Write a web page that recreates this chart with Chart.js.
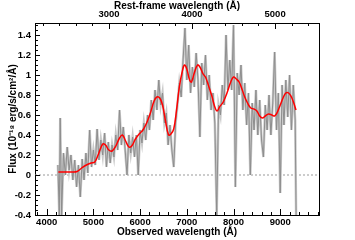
<!DOCTYPE html>
<html>
<head>
<meta charset="utf-8">
<script src="https://cdn.jsdelivr.net/npm/chart.js@4"></script>
<style>
	html, body { margin: 0; padding: 0; background: #fff; }
	canvas { display: block; }
</style>
</head>
<body>
<canvas id="chartSpec" width="355" height="240"></canvas>
<script>
// observed spectrum (grey)
const specWave = [4240,4270,4290,4320,4360,4400,4440,4480,4520,4560,4600,4640,4680,4720,4760,4800,4840,4880,4920,4960,
	5000,5040,5080,5120,5160,5200,5240,5280,5320,5360,5400,5440,5480,5520,5560,5600,5640,5680,5720,5760,
	5800,5840,5880,5920,5960,6000,6040,6080,6120,6160,6200,6240,6280,6320,6360,6400,6440,6480,6520,6560,
	6600,6640,6680,6720,6760,6800,6840,6880,6920,6960,7000,7040,7080,7120,7160,7200,7240,7280,7320,7360,
	7400,7440,7480,7520,7560,7600,7640,7680,7720,7760,7800,7840,7880,7920,7960,8000,8040,8080,8120,8160,
	8200,8240,8280,8320,8360,8400,8440,8480,8520,8560,8600,8640,8680,8720,8760,8800,8840,8880,8920,8960,
	9000,9040,9080,9120,9160,9200,9240,9280,9320,9340];
const specFlux = [0.10,-0.40,0.57,-0.40,0.22,0.00,0.28,0.05,0.20,-0.05,0.15,-0.12,0.10,-0.22,0.16,-0.05,0.22,0.02,0.45,0.08,
	0.25,0.10,0.46,0.15,0.35,0.20,0.42,0.08,0.33,0.12,0.30,0.18,0.40,0.25,0.65,0.30,0.48,0.25,0.00,0.40,
	0.22,0.38,0.18,0.40,0.00,0.45,0.32,0.52,0.35,0.60,0.45,0.75,0.55,0.85,0.65,0.95,0.70,0.82,0.52,0.62,
	0.30,0.50,0.25,0.08,0.52,0.70,0.92,0.78,1.15,1.47,0.95,1.30,0.82,1.08,0.88,1.22,0.95,0.38,1.12,0.90,
	1.20,0.75,1.00,0.65,0.82,0.52,-0.40,0.70,0.60,0.90,0.70,1.40,0.85,1.15,0.85,1.50,-0.12,1.02,0.80,1.10,
	0.65,0.92,0.50,0.82,0.00,0.72,0.45,0.85,0.40,0.75,0.35,0.18,0.70,0.45,0.80,0.40,0.72,1.23,0.45,0.82,
	-0.18,0.90,0.50,0.95,0.58,1.00,0.45,0.90,0.55,-0.40];

// smoothed spectrum (red)
const smoothWave = [4250,4400,4550,4650,4750,4850,4950,5030,5100,5200,5260,5330,5400,5480,5560,5620,5680,5760,5820,5900,
	5980,6060,6140,6220,6300,6360,6420,6480,6540,6610,6660,6720,6780,6840,6900,6950,7000,7060,7100,7160,
	7230,7280,7350,7400,7460,7530,7600,7650,7700,7780,7860,7940,8000,8060,8120,8180,8240,8300,8370,8440,
	8500,8560,8620,8680,8750,8820,8880,8940,9000,9060,9120,9180,9240,9290,9338];
const smoothFlux = [0.03,0.03,0.03,0.035,0.07,0.10,0.12,0.13,0.20,0.31,0.30,0.25,0.24,0.29,0.37,0.40,0.35,0.28,0.29,0.36,
	0.41,0.45,0.52,0.62,0.74,0.78,0.77,0.70,0.55,0.40,0.41,0.46,0.65,0.88,1.03,1.10,1.06,0.95,0.93,1.02,
	1.10,1.08,1.01,0.98,0.90,0.80,0.68,0.64,0.68,0.73,0.82,0.93,0.98,0.96,0.93,0.86,0.78,0.72,0.67,0.66,
	0.64,0.59,0.57,0.59,0.61,0.60,0.59,0.63,0.70,0.77,0.82,0.82,0.78,0.72,0.65];

// axes
const obsTicks = [4000,5000,6000,7000,8000,9000];
const restTicks = [3000,4000,5000];
const fluxTicks = [-0.4,-0.2,0,0.2,0.4,0.6,0.8,1,1.2,1.4];
const zPlus1 = 1.778;
const obsMin = 3750, obsMax = 9830;
const fluxMin = -0.4, fluxMax = 1.52;

const pts = (xs, ys) => xs.map((x, i) => ({x: x, y: ys[i]}));
const lblFont = {family: '"Liberation Sans", Arial, sans-serif', weight: 'bold', size: 9.5};
const ttlFont = {family: '"Liberation Sans", Arial, sans-serif', weight: 'bold', size: 10};

// IDL style ticks pointing into the plot
const inTicks = {
	id: 'inTicks',
	afterDraw(chart) {
		const c = chart.ctx, a = chart.chartArea, s = chart.scales;
		c.save();
		c.strokeStyle = '#000';
		c.lineWidth = 1;
		c.beginPath();
		for (let v = 3800; v <= obsMax; v += 200) {
			let p = Math.round(s.x.getPixelForValue(v)) + 0.5;
			let l = v % 1000 ? 3 : 6;
			c.moveTo(p, a.bottom); c.lineTo(p, a.bottom - l);
		}
		for (let v = 2200; v <= obsMax / zPlus1; v += 200) {
			let p = Math.round(s.x2.getPixelForValue(v)) + 0.5;
			let l = v % 1000 ? 3 : 6;
			c.moveTo(p, a.top); c.lineTo(p, a.top + l);
		}
		for (let i = -8; i * 0.05 <= fluxMax; i++) {
			let p = Math.round(s.y.getPixelForValue(i * 0.05)) + 0.5;
			let l = i % 4 ? 3 : 5;
			c.moveTo(a.left, p); c.lineTo(a.left + l, p);
		}
		c.stroke();
		c.restore();
	}
};

var ctx = document.getElementById('chartSpec').getContext('2d');
var chart = new Chart(ctx, {
	type: 'line',
	data: {
		datasets: [{
			data: pts(smoothWave, smoothFlux),
			borderColor: '#ff0000',
			borderWidth: 1.5,
			tension: 0.4
		}, {
			data: pts(specWave, specFlux),
			borderColor: '#8e8e8e',
			borderWidth: 1
		}, {
			data: pts(specWave, specFlux),
			borderColor: '#cacaca',
			borderWidth: 2.5
		}, {
			data: pts([obsMin, obsMax], [0, 0]),
			borderColor: '#9a9a9a',
			borderWidth: 1,
			borderDash: [2, 2]
		}]
	},
	options: {
		responsive: false,
		animation: false,
		devicePixelRatio: 1,
		layout: {padding: {right: 36}},
		elements: {point: {radius: 0}, line: {tension: 0}},
		datasets: {line: {xAxisID: 'x', yAxisID: 'y'}},
		plugins: {legend: {display: false}, tooltip: {enabled: false}},
		scales: {
			x: {
				type: 'linear', position: 'bottom', min: obsMin, max: obsMax,
				afterBuildTicks: s => { s.ticks = obsTicks.map(v => ({value: v})); },
				afterFit: s => { s.height = 25; },
				grid: {drawOnChartArea: false, drawTicks: false},
				border: {display: true, color: '#000', width: 1},
				ticks: {font: lblFont, color: '#000', padding: 2, maxRotation: 0, autoSkip: false, callback: v => String(v)},
				title: {display: true, text: 'Observed wavelength (Å)', font: ttlFont, color: '#000', padding: {top: 0, bottom: 1.5}}
			},
			x2: {
				type: 'linear', position: 'top', min: obsMin / zPlus1, max: obsMax / zPlus1,
				afterBuildTicks: s => { s.ticks = restTicks.map(v => ({value: v})); },
				afterFit: s => { s.height = 23; },
				grid: {drawOnChartArea: false, drawTicks: false},
				border: {display: true, color: '#000', width: 1},
				ticks: {font: lblFont, color: '#000', padding: 3, maxRotation: 0, autoSkip: false, callback: v => String(v)},
				title: {display: true, text: 'Rest-frame wavelength (Å)', font: ttlFont, color: '#000', padding: {top: 0, bottom: 0}}
			},
			y: {
				type: 'linear', position: 'left', min: fluxMin, max: fluxMax,
				afterBuildTicks: s => { s.ticks = fluxTicks.map(v => ({value: v})); },
				afterFit: s => { s.width = 35; },
				grid: {drawOnChartArea: false, drawTicks: false},
				border: {display: true, color: '#000', width: 1},
				ticks: {font: lblFont, color: '#000', padding: 4, autoSkip: false, callback: v => String(v)},
				title: {display: true, text: 'Flux (10⁻¹⁸ erg/s/cm²/Å)', font: ttlFont, color: '#000', padding: {top: 7, bottom: 0}}
			},
			y2: {
				type: 'linear', position: 'right', min: fluxMin, max: fluxMax,
				afterFit: s => { s.width = 0; },
				grid: {drawOnChartArea: false, drawTicks: false},
				border: {display: true, color: '#000', width: 1},
				ticks: {display: false}
			}
		}
	},
	plugins: [inTicks]
});
</script>
</body>
</html>
